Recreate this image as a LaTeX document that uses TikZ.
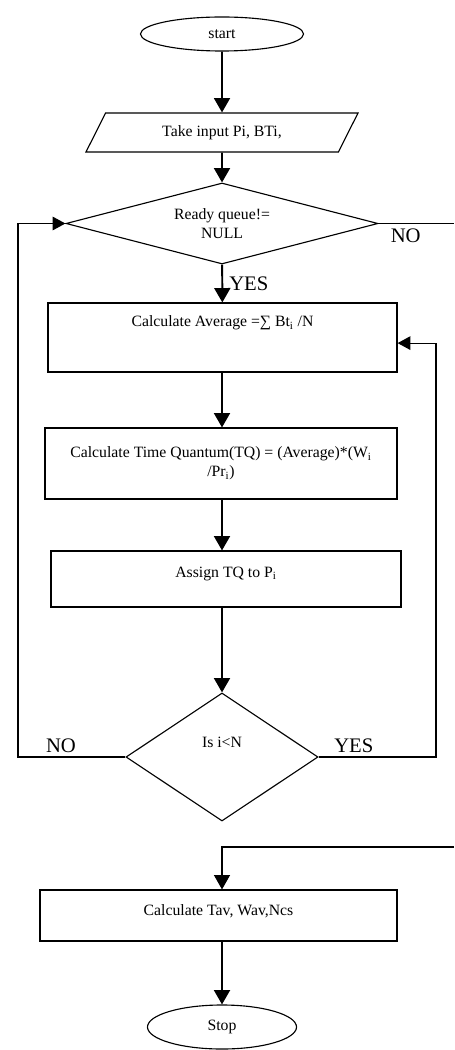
\documentclass[tikz,border=0pt]{standalone}
\usepackage{fontspec}
\setmainfont{Liberation Serif}
\usetikzlibrary{arrows.meta, shapes.geometric}

\begin{document}
\begin{tikzpicture}[x=0.025cm, y=-0.025cm,
        >={Triangle[length=0.36cm, width=0.4cm]},
        font=\fontsize{11.2}{13.5}\selectfont,
        term/.style={draw, ellipse, line width=0.8pt, inner sep=0pt},
        io/.style={draw, trapezium, trapezium left angle=36, trapezium right angle=144,
                   trapezium stretches body, line width=0.8pt, inner sep=0pt},
        proc/.style={draw, rectangle, line width=0.8pt, align=center, inner sep=0pt},
        dec/.style={draw, diamond, line width=0.8pt, align=center, inner sep=0pt},
        flow/.style={->, line width=1.4pt},
        back/.style={->, line width=0.8pt, >={Triangle[length=0.32cm, width=0.34cm]}},
        lab/.style={font=\fontsize{14.7}{17}\selectfont, inner sep=0pt}]
      \useasboundingbox (0,0) rectangle (454,1050);
      \node[term, minimum width=4.075cm, minimum height=0.85cm] (start) at (222,34) {start};
      \node[io, minimum width=6.8cm, minimum height=0.975cm] (input) at (222,132.5) {Take input Pi, BTi,};
      \node[dec, aspect=3.85, minimum width=7.8cm, minimum height=2.025cm] (ready) at (222,223.5)
           {Ready queue!=\\NULL};
      \node[proc, minimum width=8.725cm, minimum height=1.725cm, text depth=0.8cm] (avg) at (222.5,337.5)
           {Calculate Average =∑ Bt\textsubscript{i} /N};
      \node[proc, minimum width=8.8cm, minimum height=1.775cm] (tq) at (221,463.5)
           {Calculate Time Quantum(TQ) = (Average)*(W\textsubscript{i}\\/Pr\textsubscript{i})};
      \node[proc, minimum width=8.75cm, minimum height=1.4cm, text depth=0.35cm] (assign) at (226,579)
           {Assign TQ to P\textsubscript{i}};
      \node[dec, aspect=1.5, minimum width=4.8cm, minimum height=3.2cm, text depth=0.75cm] (check) at (222,757)
           {Is i<N};
      \node[proc, minimum width=8.925cm, minimum height=1.275cm, text depth=0.25cm] (fin) at (218.5,915.5)
           {Calculate Tav, Wav,Ncs};
      \node[term, minimum width=3.725cm, minimum height=1.1cm] (stop) at (222,1027) {Stop};
      \coordinate (noEnd) at (454,223.5);
      \coordinate (loopL) at (18,757);
      \coordinate (loopR) at (436,757);
      \coordinate (inR) at (454,847);
      \draw[flow] (start) -- (input);
      \draw[flow] (input) -- (ready);
      \draw[flow] (ready) -- node[lab, right=0.15cm]{YES} (avg);
      \draw[line width=0.8pt] (ready.east) -- node[lab, below=0.12cm, pos=0.36]{NO} (noEnd);
      \draw[flow] (avg.south -| start) -- (tq.north -| start);
      \draw[flow] (tq.south -| start) -- (assign.north -| start);
      \draw[flow] (assign.south -| start) -- (check);
      \draw[back] (check.west) -- node[lab, above=0.1cm, pos=0.6]{NO} (loopL) |- (ready.west);
      \draw[back] (check.east) -- node[lab, above=0.1cm, pos=0.3]{YES} (loopR) |- ([yshift=-0.14cm]avg.east);
      \draw[flow, line width=1pt] (inR) -| (fin.north -| start);
      \draw[flow] (fin.south -| start) -- (stop);
    \end{tikzpicture}
\end{document}
